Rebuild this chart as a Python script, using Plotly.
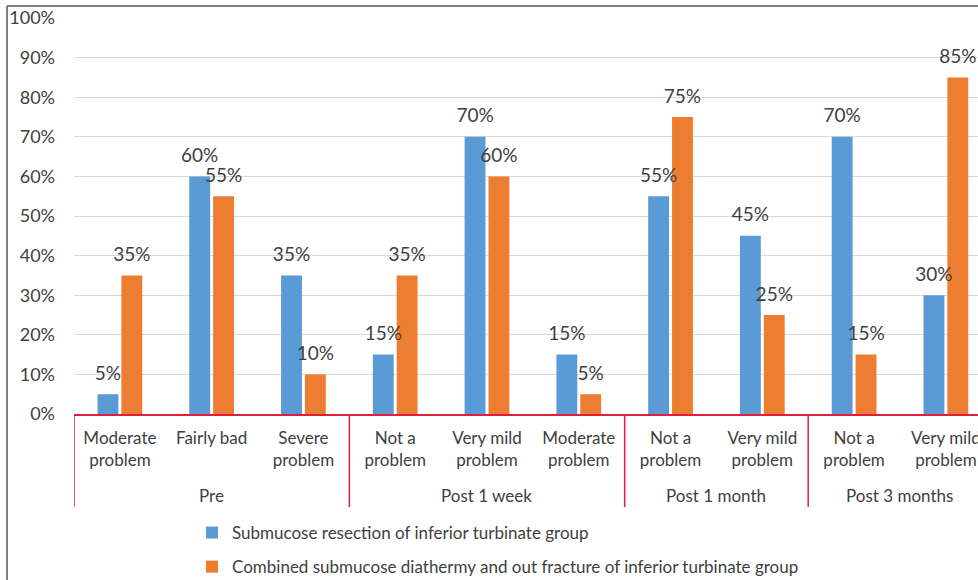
import plotly.graph_objects as go

# Time points and the response categories reported at each
groups = ["Pre"] * 3 + ["Post 1 week"] * 3 + ["Post 1 month"] * 2 + ["Post 3 months"] * 2
categories = [
    "Moderate problem", "Fairly bad", "Severe problem",
    "Not a problem", "Very mild problem", "Moderate problem",
    "Not a problem", "Very mild problem",
    "Not a problem", "Very mild problem",
]

# Percent of patients per group
resection = [5, 60, 35, 15, 70, 15, 55, 45, 70, 30]
diathermy = [35, 55, 10, 35, 60, 5, 75, 25, 15, 85]

series_names = [
    "Submucose resection of inferior turbinate group",
    "Combined submucose diathermy and out fracture of inferior turbinate group",
]
series_colors = ["#5B9BD5", "#ED7D31"]


def wrap(label):
    """Break a tick label before its last word (except the short one)."""
    words = label.split(" ")
    if len(words) > 1 and label != "Fairly bad":
        return " ".join(words[:-1]) + "<br>" + words[-1]
    return label


# Repeated labels in later groups get an invisible suffix so each bar keeps
# its own slot on the category axis.
seen = {}
tick_labels = []
for c in categories:
    base = wrap(c)
    n = seen.get(base, 0)
    seen[base] = n + 1
    tick_labels.append(base + "\u200b" * n)

FONT = "Lato"
TEXT = "#404040"
RED = "#E0203A"
GAP = 0.48

fig = go.Figure()
for i, (name, vals, col) in enumerate(zip(series_names, [resection, diathermy], series_colors)):
    fig.add_trace(go.Bar(
        x=tick_labels,
        y=vals,
        name=name,
        marker=dict(color=col, line=dict(width=0)),
        offsetgroup=str(i),
        legendgroup=f"g{i}",
    ))
# value labels, sitting a little above each bar
for i, vals in enumerate([resection, diathermy]):
    fig.add_trace(go.Scatter(
        x=tick_labels,
        y=vals,
        mode="markers+text",
        marker=dict(size=14, opacity=0),
        text=[f"{v}%" for v in vals],
        textposition="top center",
        textfont=dict(family=FONT, size=19, color=TEXT),
        offsetgroup=str(i),
        showlegend=False,
        hoverinfo="skip",
        cliponaxis=False,
    ))

W, H = 978, 580
L, R, T, B = 74, 0, 18, 166
pw, ph = W - L - R, H - T - B


def py(px):
    """Page pixel row -> paper y fraction."""
    return (H - B - px) / ph


# group spans along the category axis
spans = []
start = 0
for k in range(1, len(groups) + 1):
    if k == len(groups) or groups[k] != groups[start]:
        spans.append((groups[start], start, k - 1))
        start = k

shapes = []
annotations = []
for name, a, b in spans:
    annotations.append(dict(
        x=(a + b) / 2, xref="x", y=py(495), yref="paper",
        text=name, showarrow=False, yanchor="middle",
        font=dict(family=FONT, size=17, color=TEXT),
    ))
for pos in [a - 0.5 for _, a, _ in spans] + [spans[-1][2] + 0.5]:
    shapes.append(dict(
        type="line", xref="x", yref="paper",
        x0=pos, x1=pos, y0=0, y1=py(507),
        line=dict(color=RED, width=1.5),
    ))
# chart frame along the top and left edges
shapes += [
    dict(type="line", xref="paper", yref="paper",
         x0=(7 - L) / pw, x1=(W + 5 - L) / pw,
         y0=py(6), y1=py(6),
         line=dict(color="#555555", width=1.5)),
    dict(type="line", xref="paper", yref="paper",
         x0=(7 - L) / pw, x1=(7 - L) / pw,
         y0=py(6), y1=py(H + 5),
         line=dict(color="#555555", width=1.5)),
]

fig.update_layout(
    width=W, height=H,
    margin=dict(l=L, r=R, t=T, b=B, autoexpand=False),
    paper_bgcolor="white",
    plot_bgcolor="white",
    barmode="group",
    bargap=GAP,
    bargroupgap=0.125,
    scattermode="group",
    scattergap=GAP,
    font=dict(family=FONT, size=17, color=TEXT),
    legend=dict(
        x=(192 - L) / pw, y=py(515),
        xanchor="left", yanchor="top",
        orientation="v",
        font=dict(family=FONT, size=17, color=TEXT),
        tracegroupgap=9,
        bgcolor="rgba(0,0,0,0)",
    ),
    xaxis=dict(
        type="category",
        range=[-0.5, 9.35],
        automargin=False,
        showline=True, linecolor=RED, linewidth=1.5,
        showgrid=False, zeroline=False,
        tickfont=dict(family=FONT, size=17, color=TEXT),
        ticks="",
        ticklabelstandoff=8,
    ),
    yaxis=dict(
        range=[0, 100],
        automargin=False,
        tickvals=list(range(0, 101, 10)),
        ticktext=[f"{v}%" for v in range(0, 101, 10)],
        showgrid=True, gridcolor="#D9D9D9", gridwidth=1,
        zeroline=False,
        showline=False,
        tickfont=dict(family=FONT, size=18, color=TEXT),
        ticklabelstandoff=18,
    ),
    shapes=shapes,
    annotations=annotations,
)

fig.write_html("out.html")
